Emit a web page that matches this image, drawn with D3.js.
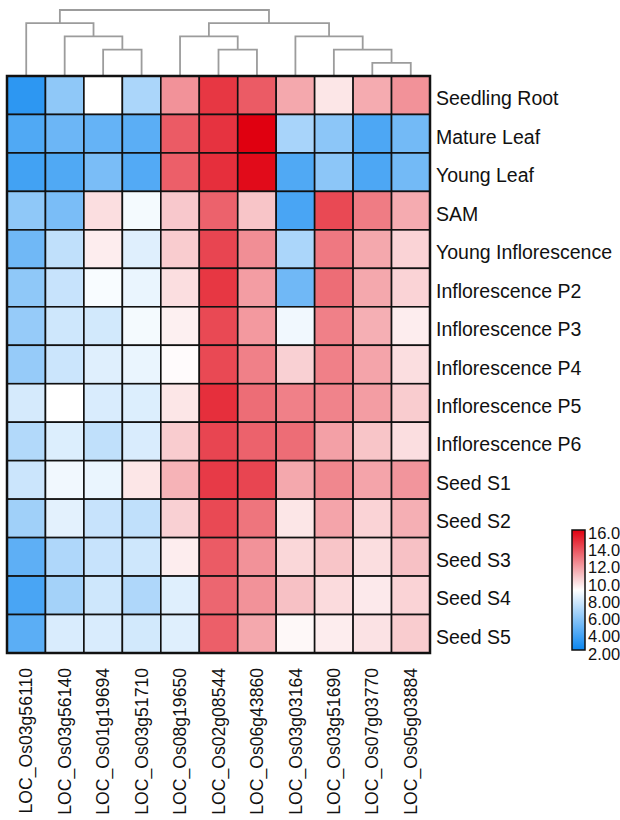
<!DOCTYPE html>
<html>
<head>
<meta charset="utf-8">
<script src="https://cdn.jsdelivr.net/npm/d3@7"></script>
<style>
  body { margin: 0; background: white; }
  text { font-family: "Liberation Sans", Arial, sans-serif; }
</style>
</head>
<body>
<div id="chart"></div>
<script>
let svgWidth = 620;
let svgHeight = 820;

// genes (columns), in dendrogram order
let genes = ["LOC_Os03g56110", "LOC_Os03g56140", "LOC_Os01g19694", "LOC_Os03g51710",
  "LOC_Os08g19650", "LOC_Os02g08544", "LOC_Os06g43860", "LOC_Os03g03164",
  "LOC_Os03g51690", "LOC_Os07g03770", "LOC_Os05g03884"];

let tissues = ["Seedling Root", "Mature Leaf", "Young Leaf", "SAM", "Young Inflorescence",
  "Inflorescence P2", "Inflorescence P3", "Inflorescence P4", "Inflorescence P5",
  "Inflorescence P6", "Seed S1", "Seed S2", "Seed S3", "Seed S4", "Seed S5"];

// expression values, one row per tissue
let values = [
  [3.0, 5.8, 9.0, 6.6, 12.0, 14.5, 13.5, 11.4, 9.7, 11.3, 12.0],
  [4.0, 4.8, 4.6, 4.3, 13.5, 14.6, 16.0, 6.5, 5.7, 3.9, 5.0],
  [3.6, 4.0, 5.2, 4.1, 13.4, 14.7, 15.7, 4.0, 5.7, 3.9, 5.0],
  [5.8, 5.2, 9.9, 8.7, 10.5, 13.3, 10.6, 3.8, 14.0, 12.6, 11.3],
  [4.9, 7.2, 9.5, 8.1, 10.4, 14.1, 12.1, 6.6, 12.7, 11.4, 10.2],
  [5.8, 7.4, 8.8, 8.4, 9.9, 14.5, 11.7, 4.9, 13.0, 11.4, 10.2],
  [6.0, 7.6, 7.7, 8.7, 9.4, 14.0, 11.8, 8.6, 12.5, 11.2, 9.5],
  [6.0, 7.5, 8.1, 8.4, 9.1, 14.0, 12.5, 10.3, 12.5, 11.5, 9.9],
  [7.8, 9.0, 7.9, 8.0, 9.7, 14.7, 13.0, 12.5, 12.4, 11.7, 10.4],
  [6.8, 8.0, 7.2, 7.9, 10.4, 14.1, 13.3, 13.0, 11.6, 10.6, 9.9],
  [7.5, 8.6, 8.4, 9.7, 11.1, 14.4, 14.1, 11.4, 12.3, 11.5, 11.9],
  [6.3, 8.2, 7.4, 7.2, 10.3, 14.0, 12.8, 9.7, 11.5, 10.2, 11.2],
  [4.4, 6.7, 7.4, 7.6, 9.5, 13.5, 12.0, 10.1, 10.6, 9.9, 10.7],
  [3.8, 6.4, 7.6, 6.7, 8.1, 13.2, 12.0, 10.7, 10.0, 9.6, 10.2],
  [4.3, 7.9, 7.9, 7.7, 8.1, 13.4, 11.4, 9.2, 9.5, 9.8, 10.4]
];

// column dendrogram: [height, left, right], leaves are column indexes
let colTree = [5, [4, 0, [3, 1, [2, 2, 3]]], [4, [3, 4, [2, 5, 6]], [3, 7, [2, 8, [1, 9, 10]]]]];

let legendTicks = [2, 4, 6, 8, 10, 12, 14, 16];

let viz = d3.select("#chart")
  .append("svg")
    .attr("width", svgWidth)
    .attr("height", svgHeight);

let mapLeft = 7, mapRight = 430, mapTop = 76, mapBottom = 653;

let x = d3.scaleBand().domain(d3.range(genes.length)).range([mapLeft, mapRight]);
let y = d3.scaleBand().domain(d3.range(tissues.length)).range([mapTop, mapBottom]);
let h = d3.scaleLinear().domain([0, 5]).range([mapTop, 10]);

let color = d3.scaleLinear()
  .domain([2, 9, 16])
  .range(["#0a86f0", "#ffffff", "#e00010"]);

// dendrogram
let dendro = viz.append("g")
  .attr("fill", "none")
  .attr("stroke", "#9c9c9c")
  .attr("stroke-width", 1.8);

function drawNode(node) {
  if (typeof node === "number") {
    return { x: x(node) + x.bandwidth() / 2, y: h(0) };
  }
  let a = drawNode(node[1]);
  let b = drawNode(node[2]);
  let yy = h(node[0]);
  dendro.append("path")
    .attr("d", "M" + a.x + "," + a.y + "V" + yy + "H" + b.x + "V" + b.y);
  return { x: (a.x + b.x) / 2, y: yy };
}
drawNode(colTree);

// cells
let cells = [];
values.forEach(function (row, r) {
  row.forEach(function (v, c) { cells.push({ r: r, c: c, v: v }); });
});

viz.selectAll(".cell").data(cells).enter()
  .append("rect")
    .attr("class", "cell")
    .attr("x", d => x(d.c))
    .attr("y", d => y(d.r))
    .attr("width", x.bandwidth())
    .attr("height", y.bandwidth())
    .attr("fill", d => color(d.v))
    .attr("stroke", "#111")
    .attr("stroke-width", 1.6);

viz.append("rect")
  .attr("x", mapLeft)
  .attr("y", mapTop)
  .attr("width", mapRight - mapLeft)
  .attr("height", mapBottom - mapTop)
  .attr("fill", "none")
  .attr("stroke", "#111")
  .attr("stroke-width", 2.5);

// row labels
viz.selectAll(".rowLabel").data(tissues).enter()
  .append("text")
    .attr("class", "rowLabel")
    .attr("x", mapRight + 6)
    .attr("y", (d, i) => y(i) + y.bandwidth() / 2 + 10)
    .attr("font-size", 19.5)
    .attr("fill", "#111")
    .text(d => d);

// column labels
viz.selectAll(".colLabel").data(genes).enter()
  .append("text")
    .attr("class", "colLabel")
    .attr("transform", (d, i) => "translate(" + (x(i) + x.bandwidth() / 2) + "," + (mapBottom + 15) + ") rotate(-90)")
    .attr("text-anchor", "end")
    .attr("dy", "0.35em")
    .attr("font-size", 17.6)
    .attr("fill", "#111")
    .text(d => d);

// legend
let legX = 572, legW = 13, legTop = 530, legBottom = 650;
let grad = viz.append("defs").append("linearGradient")
  .attr("id", "legGrad")
  .attr("x1", "0%").attr("x2", "0%")
  .attr("y1", "100%").attr("y2", "0%");
[2, 9, 16].forEach(function (v) {
  grad.append("stop")
    .attr("offset", ((v - 2) / 14 * 100) + "%")
    .attr("stop-color", color(v));
});

viz.append("rect")
  .attr("x", legX)
  .attr("y", legTop)
  .attr("width", legW)
  .attr("height", legBottom - legTop)
  .attr("fill", "url(#legGrad)")
  .attr("stroke", "#111")
  .attr("stroke-width", 1.5);

let legScale = d3.scaleLinear().domain([2, 16]).range([654, 533]);
viz.selectAll(".legLabel").data(legendTicks).enter()
  .append("text")
    .attr("class", "legLabel")
    .attr("x", legX + legW + 3)
    .attr("y", d => legScale(d))
    .attr("dy", "0.35em")
    .attr("font-size", 16.5)
    .attr("fill", "#111")
    .text(d => d < 10 ? d3.format(".2f")(d) : d3.format(".1f")(d));
</script>
</body>
</html>
